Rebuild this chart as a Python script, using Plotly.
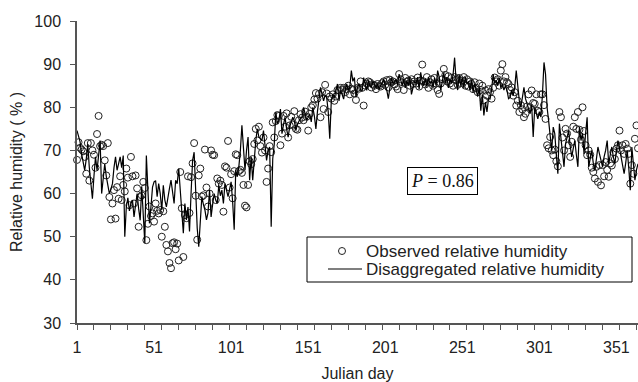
import plotly.graph_objects as go

days = list(range(1, 366))

observed = [
    67.8, 71.9, 70.6, 70.2, 69.8, 68.5, 64.6, 71.7, 63.0, 71.7,
    70.0, 69.0, 66.0, 73.8, 78.0, 71.0, 71.3, 71.0, 67.7, 64.2,
    71.7, 59.2, 54.0, 57.7, 60.8, 54.2, 61.5, 58.8, 64.0, 58.5,
    62.0, 60.5, 65.8, 63.7, 57.3, 68.5, 64.0, 57.7, 64.2, 61.2,
    52.3, 59.2, 59.6, 62.7, 61.3, 49.2, 53.0, 57.0, 54.8, 55.4,
    53.5, 57.7, 56.0, 55.4, 56.2, 50.0, 55.9, 52.3, 48.1, 46.6,
    43.9, 42.7, 48.5, 48.7, 47.1, 48.4, 44.5, 65.0, 56.6, 45.3,
    55.0, 54.3, 64.0, 55.5, 63.8, 67.0, 71.7, 59.5, 49.3, 64.2,
    65.8, 59.3, 59.6, 70.2, 61.4, 57.0, 60.0, 70.0, 69.0, 68.9,
    58.5, 63.5, 62.3, 63.0, 62.0, 55.8, 66.3, 66.0, 72.2, 61.4,
    64.5, 58.9, 65.2, 69.1, 68.9, 65.2, 65.5, 64.8, 62.0, 57.2,
    56.8, 62.0, 67.5, 66.8, 68.0, 71.5, 75.0, 72.3, 75.5, 71.0,
    69.5, 73.0, 70.0, 62.7, 65.8, 71.0, 69.6, 76.5, 73.0, 76.8,
    78.2, 78.0, 71.2, 73.9, 78.0, 75.5, 78.6, 73.0, 75.8, 77.8,
    76.0, 79.1, 75.0, 74.8, 77.0, 78.4, 77.6, 77.0, 79.0, 77.8,
    74.6, 78.5, 80.0, 80.5, 81.8, 83.3, 82.0, 83.1, 77.7, 83.5,
    79.6, 85.2, 83.2, 78.9, 82.5, 82.0, 83.0, 81.5, 82.5, 84.0,
    83.9, 84.5, 84.0, 84.5, 83.5, 84.2, 85.0, 83.0, 84.3, 84.0,
    83.2, 81.7, 84.5, 84.3, 86.0, 84.5, 80.4, 85.0, 85.5, 86.0,
    85.8, 84.6, 85.3, 85.0, 84.2, 85.4, 85.0, 84.8, 85.6, 86.0,
    85.2, 86.3, 84.6, 86.4, 85.8, 86.0, 85.3, 84.8, 84.2, 87.7,
    86.5, 85.8, 84.0, 86.8, 85.9, 86.2, 85.0, 86.5, 85.4, 86.0,
    85.5, 86.9, 84.8, 86.2, 89.9, 86.0, 85.3, 87.0, 84.5, 85.8,
    86.5, 85.0, 86.8, 85.5, 84.0, 83.1, 85.5, 86.5, 88.9, 87.5,
    86.0, 87.2, 85.5, 86.8, 85.0, 87.0, 86.3, 85.2, 86.8, 85.6,
    86.2, 87.0, 85.0, 86.5, 84.8, 86.0, 85.4, 84.2, 85.8, 84.5,
    83.5, 85.5, 84.0, 85.0, 81.6, 83.9, 82.7, 84.2, 83.5, 82.0,
    84.5, 86.9, 86.0, 86.5, 85.0, 88.5, 90.0, 86.0, 87.0, 85.8,
    85.4, 84.0, 84.6, 82.7, 83.5, 80.4, 81.5, 78.9, 80.5, 79.5,
    77.7, 78.5, 80.2, 83.0, 80.0, 83.9, 81.0, 80.8, 83.0, 79.2,
    78.9, 83.0, 83.0, 80.5, 77.3, 71.2, 70.5, 73.1, 70.0, 68.9,
    70.2, 67.5, 66.3, 78.9, 77.7, 73.0, 70.0, 75.0, 73.9, 71.2,
    68.5, 72.0, 75.5, 77.7, 75.0, 78.9, 74.8, 72.5, 80.0, 74.5,
    71.2, 68.9, 70.0, 69.0, 66.0, 65.0, 63.5, 66.2, 62.7, 66.6,
    61.9, 66.6, 64.0, 67.3, 65.5, 63.9, 67.0, 66.5, 69.6, 68.0,
    70.4, 71.2, 74.6, 70.0, 71.2, 69.2, 71.5, 70.4, 69.2, 62.3,
    66.6, 64.6, 72.7, 75.8, 70.5,
]

disaggregated = [
    74.6, 73.0, 72.0, 69.2, 67.0, 65.4, 68.0, 71.5, 66.0, 62.0,
    58.8, 64.0, 68.5, 65.4, 69.0, 72.3, 60.0, 63.5, 66.9, 64.0,
    61.5, 60.0, 61.0, 62.3, 66.0, 68.5, 65.4, 67.0, 68.5, 66.0,
    68.8, 50.0, 56.9, 59.0, 56.0, 57.7, 58.5, 54.6, 57.0, 60.0,
    56.5, 53.8, 61.5, 55.0, 48.5, 68.8, 60.0, 53.1, 57.0, 61.5,
    62.7, 63.0, 59.3, 62.3, 60.0, 56.2, 61.9, 58.5, 56.9, 59.5,
    61.2, 63.1, 60.0, 57.7, 63.1, 62.3, 65.8, 60.5, 56.9, 50.8,
    57.7, 53.9, 56.9, 51.2, 60.0, 67.7, 69.6, 58.5, 52.0, 47.7,
    53.9, 59.3, 57.5, 56.2, 53.9, 55.5, 60.8, 54.6, 57.5, 60.0,
    58.5, 57.7, 61.9, 59.5, 60.8, 57.7, 62.3, 60.5, 59.3, 61.0,
    62.7, 58.0, 51.6, 65.4, 63.9, 66.2, 70.0, 75.8, 69.0, 65.4,
    70.0, 73.1, 63.1, 68.5, 63.1, 68.0, 72.3, 75.0, 73.1, 72.8,
    72.3, 74.6, 70.5, 67.7, 70.0, 70.8, 52.3, 68.0, 71.5, 78.9,
    76.2, 77.0, 79.6, 73.9, 76.0, 77.7, 75.0, 73.1, 75.5, 76.5,
    77.7, 76.9, 74.6, 76.0, 76.9, 77.5, 77.7, 80.0, 78.5, 77.0,
    77.7, 78.5, 76.6, 80.0, 78.0, 75.0, 79.0, 81.5, 84.6, 83.0,
    81.5, 82.8, 82.3, 79.0, 72.7, 81.5, 83.0, 82.3, 84.0, 85.4,
    81.5, 83.9, 83.0, 81.9, 84.0, 85.4, 84.0, 84.6, 88.5, 86.0,
    86.9, 82.3, 84.6, 85.5, 84.0, 83.9, 86.9, 85.0, 83.9, 86.2,
    85.0, 84.6, 86.0, 85.4, 84.5, 85.5, 84.2, 85.0, 85.8, 86.5,
    85.0, 84.0, 82.0, 85.0, 86.9, 85.5, 85.8, 86.5, 85.2, 87.7,
    86.0, 85.0, 86.5, 84.5, 86.2, 85.0, 87.0, 83.0, 84.5, 86.0,
    85.5, 87.0, 84.2, 88.1, 86.0, 85.0, 86.5, 84.8, 87.0, 85.5,
    86.2, 84.5, 86.8, 85.0, 88.5, 87.0, 84.0, 86.0, 88.0, 85.5,
    87.0, 84.5, 86.5, 85.5, 87.5, 91.5, 86.0, 84.0, 87.5, 85.0,
    86.8, 84.5, 87.0, 85.5, 86.0, 84.0, 86.5, 83.5, 85.5, 84.0,
    82.5, 84.5, 79.2, 83.0, 78.1, 81.2, 78.9, 82.0, 81.9, 84.0,
    87.7, 85.5, 86.2, 85.0, 86.9, 84.5, 85.4, 84.0, 85.0, 83.9,
    82.0, 82.3, 84.0, 82.7, 84.5, 88.5, 83.9, 81.5, 80.0, 83.0,
    84.6, 82.0, 80.8, 79.5, 78.5, 80.5, 73.1, 80.0, 78.5, 77.3,
    79.0, 77.7, 83.0, 90.4, 87.7, 80.0, 76.9, 73.9, 70.0, 75.4,
    73.9, 69.0, 64.6, 76.2, 72.7, 69.5, 66.2, 71.5, 73.0, 74.6,
    71.0, 68.5, 70.5, 72.3, 69.0, 66.2, 75.4, 72.3, 74.0, 69.2,
    74.0, 77.7, 66.2, 68.5, 70.0, 67.0, 65.4, 68.0, 70.8, 69.2,
    67.5, 66.2, 68.5, 70.0, 72.3, 66.9, 69.0, 70.8, 68.5, 66.9,
    70.0, 72.3, 70.5, 68.5, 66.5, 64.6, 67.0, 70.0, 66.0, 60.8,
    70.8, 66.0, 63.1, 65.5, 66.9,
]

series_names = ["Observed relative humidity", "Disaggregated relative humidity"]
x_tick_vals = [1, 51, 101, 151, 201, 251, 301, 351]
x_tick_text = ["1", "51", "101", "151", "201", "251", "301", "351"]
y_tick_vals = [30, 40, 50, 60, 70, 80, 90, 100]

FONT = "Liberation Sans, Arial, Helvetica, sans-serif"
AX = "#555555"
TXT = "#222222"

# plot-area geometry (pixels) used to place the hand-built legend
W, H = 638, 382
ML, MR, MT, MB = 77, 0, 21, 59
PW, PH = W - ML - MR, H - MT - MB


def px(xp):
    return (xp - ML) / PW


def py(yp):
    return 1 - (yp - MT) / PH


fig = go.Figure()
fig.add_trace(go.Scatter(
    x=days, y=observed, mode="markers", name=series_names[0],
    marker=dict(symbol="circle-open", size=7, color=TXT, line=dict(width=1, color=TXT)),
    cliponaxis=False, showlegend=False,
))
fig.add_trace(go.Scatter(
    x=days, y=disaggregated, mode="lines", name=series_names[1],
    line=dict(color="#000000", width=1.2),
    cliponaxis=False, showlegend=False,
))

shapes = [
    # tick mark at day 1
    dict(type="line", xref="x", yref="paper", x0=1, x1=1,
         ysizemode="pixel", yanchor=0, y0=0, y1=-5, line=dict(color=AX, width=1)),
    # legend frame
    dict(type="rect", xref="paper", yref="paper", x0=px(307), x1=px(632), y0=py(282), y1=py(237),
         line=dict(color="#000000", width=1), fillcolor="white", layer="above"),
    # legend symbols
    dict(type="circle", xref="paper", yref="paper",
         x0=px(342 - 3.5), x1=px(342 + 3.5), y0=py(251 + 3.5), y1=py(251 - 3.5),
         line=dict(color=TXT, width=1), layer="above"),
    dict(type="line", xref="paper", yref="paper", x0=px(328), x1=px(362), y0=py(269), y1=py(269),
         line=dict(color="#000000", width=1.2), layer="above"),
]

annotations = [
    dict(text="<i>P</i> = 0.86", xref="paper", yref="paper", x=0.651, y=0.469,
         xanchor="center", yanchor="middle", showarrow=False,
         font=dict(family="Liberation Serif, Times New Roman, serif", size=18, color="#111111"),
         bordercolor="#000000", borderwidth=1, borderpad=3, bgcolor="white"),
    dict(text=series_names[0], xref="paper", yref="paper", x=px(364), y=py(251),
         xanchor="left", yanchor="middle", showarrow=False,
         font=dict(family=FONT, size=17, color=TXT)),
    dict(text=series_names[1], xref="paper", yref="paper", x=px(364), y=py(269),
         xanchor="left", yanchor="middle", showarrow=False,
         font=dict(family=FONT, size=17, color=TXT)),
]

fig.update_layout(
    width=W, height=H,
    margin=dict(l=ML, r=MR, t=MT, b=MB),
    paper_bgcolor="white", plot_bgcolor="white",
    font=dict(family=FONT, size=16, color=TXT),
    showlegend=False,
    xaxis=dict(
        range=[1, 365], showgrid=False, zeroline=False,
        showline=True, linecolor=AX, linewidth=1.5,
        tickmode="array", tickvals=x_tick_vals, ticktext=x_tick_text,
        ticks="outside", ticklen=5, tickcolor="rgba(0,0,0,0)",
        ticklabelstandoff=4,
        minor=dict(ticks="outside", ticklen=5, tickcolor=AX, tickwidth=1,
                   tick0=1, dtick=11, showgrid=False),
        tickfont=dict(family=FONT, size=16, color=TXT),
        title=dict(text="Julian day", font=dict(family=FONT, size=16, color=TXT), standoff=15),
    ),
    yaxis=dict(
        range=[30, 100], showgrid=False, zeroline=False,
        showline=True, linecolor=AX, linewidth=1.5,
        tickmode="array", tickvals=y_tick_vals,
        ticks="outside", ticklen=5, tickcolor=AX, tickwidth=1,
        ticklabelstandoff=6,
        tickfont=dict(family=FONT, size=16, color=TXT),
        title=dict(text="Relative humidity ( % )", font=dict(family=FONT, size=16, color=TXT), standoff=8),
    ),
    shapes=shapes,
    annotations=annotations,
)

fig.write_html("out.html")
